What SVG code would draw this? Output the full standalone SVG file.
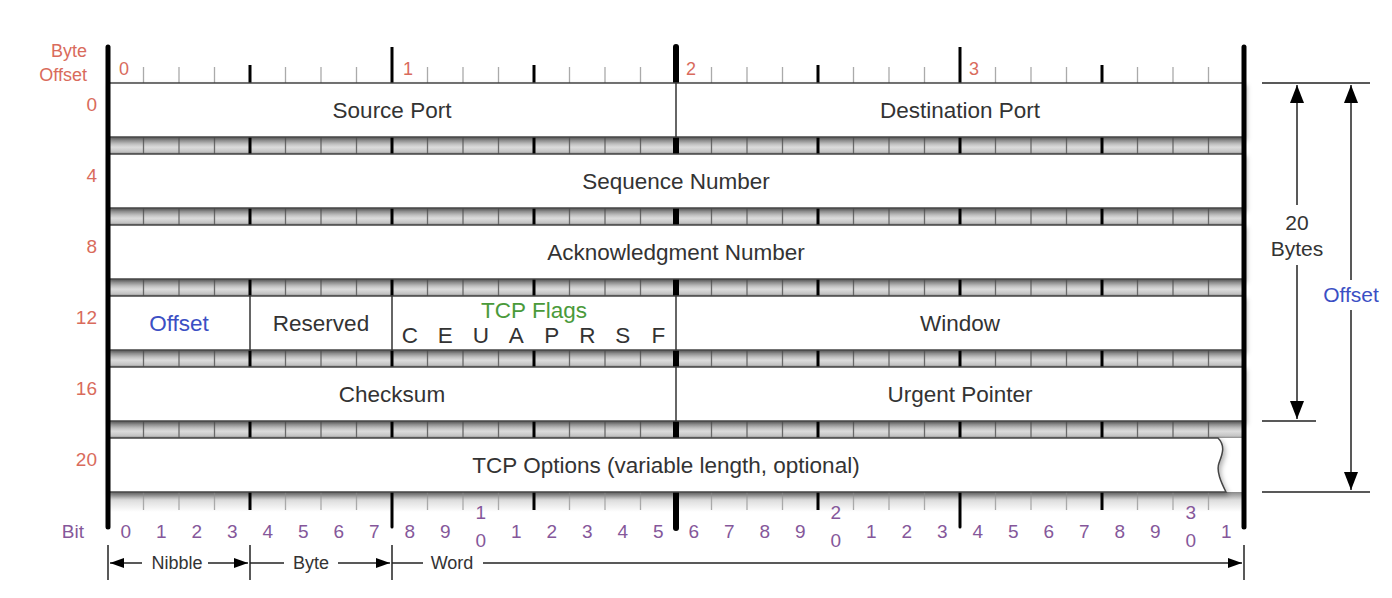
<svg xmlns="http://www.w3.org/2000/svg" xmlns:xlink="http://www.w3.org/1999/xlink" width="1392" height="598" viewBox="0 0 1392 598">
<style>
text{font-family:"Liberation Sans",Arial,sans-serif}
.fld{font-size:22.5px;fill:#333;text-anchor:middle}
.off{font-size:18px;fill:#d96b5c;text-anchor:end}
.byn{font-size:18px;fill:#d96b5c}
.bit{font-size:19px;fill:#85579a;text-anchor:middle}
.lbl{font-size:18px;fill:#333;text-anchor:middle}
.row{fill:#fff;stroke:#444;stroke-width:1.5;filter:url(#sh)}
.div{stroke:#333;stroke-width:1.5}
.lt{stroke:#6a6a6a;stroke-width:1.3}
.tb{stroke:#aaa;stroke-width:1.3}
.nb{stroke:#000;stroke-width:3}
.hw{stroke:#000;stroke-width:6}
.bd{stroke:#000;stroke-width:5;stroke-linecap:round}
.ln{stroke:#222;stroke-width:1.5;fill:none}
</style>
<defs>
<linearGradient id="bg" x1="0" y1="0" x2="0" y2="1">
<stop offset="0" stop-color="#777"/>
<stop offset="0.2" stop-color="#a8a8a8"/>
<stop offset="0.6" stop-color="#dcdcdc"/>
<stop offset="0.88" stop-color="#c4c4c4"/>
<stop offset="1" stop-color="#888"/>
</linearGradient>
<linearGradient id="bg2" x1="0" y1="0" x2="0" y2="1">
<stop offset="0" stop-color="#888"/>
<stop offset="0.4" stop-color="#ddd"/>
<stop offset="1" stop-color="#fff"/>
</linearGradient>
<filter id="sh" x="-5%" y="-20%" width="110%" height="160%">
<feDropShadow dx="2" dy="3" stdDeviation="2.5" flood-color="#000" flood-opacity="0.3"/>
</filter>
<marker id="ah" markerUnits="userSpaceOnUse" viewBox="0 0 18 14" refX="18" refY="7" markerWidth="18" markerHeight="14" orient="auto">
<path d="M0 0 L18 7 L0 14 z" fill="#000"/>
</marker>
<marker id="sa" markerUnits="userSpaceOnUse" viewBox="0 0 14 10" refX="14" refY="5" markerWidth="14" markerHeight="10" orient="auto">
<path d="M0 0 L14 5 L0 10 z" fill="#000"/>
</marker>
<g id="bar">
<rect x="108" y="0" width="1136" height="17" fill="url(#bg)"/>
<g class="lt">
<line x1="143.5" y1="0" x2="143.5" y2="17"/><line x1="179" y1="0" x2="179" y2="17"/><line x1="214.5" y1="0" x2="214.5" y2="17"/>
<line x1="285.5" y1="0" x2="285.5" y2="17"/><line x1="321" y1="0" x2="321" y2="17"/><line x1="356.5" y1="0" x2="356.5" y2="17"/>
<line x1="427.5" y1="0" x2="427.5" y2="17"/><line x1="463" y1="0" x2="463" y2="17"/><line x1="498.5" y1="0" x2="498.5" y2="17"/>
<line x1="569.5" y1="0" x2="569.5" y2="17"/><line x1="605" y1="0" x2="605" y2="17"/><line x1="640.5" y1="0" x2="640.5" y2="17"/>
<line x1="711.5" y1="0" x2="711.5" y2="17"/><line x1="747" y1="0" x2="747" y2="17"/><line x1="782.5" y1="0" x2="782.5" y2="17"/>
<line x1="853.5" y1="0" x2="853.5" y2="17"/><line x1="889" y1="0" x2="889" y2="17"/><line x1="924.5" y1="0" x2="924.5" y2="17"/>
<line x1="995.5" y1="0" x2="995.5" y2="17"/><line x1="1031" y1="0" x2="1031" y2="17"/><line x1="1066.5" y1="0" x2="1066.5" y2="17"/>
<line x1="1137.5" y1="0" x2="1137.5" y2="17"/><line x1="1173" y1="0" x2="1173" y2="17"/><line x1="1208.5" y1="0" x2="1208.5" y2="17"/>
</g>
<g class="nb">
<line x1="250" y1="0" x2="250" y2="17"/><line x1="392" y1="0" x2="392" y2="17"/><line x1="534" y1="0" x2="534" y2="17"/>
<line x1="818" y1="0" x2="818" y2="17"/><line x1="960" y1="0" x2="960" y2="17"/><line x1="1102" y1="0" x2="1102" y2="17"/>
</g>
<line class="hw" x1="676" y1="0" x2="676" y2="17"/>
</g>
</defs>

<rect width="1392" height="598" fill="#fff"/>

<!-- header ruler -->
<g id="header">
<text class="off" x="87" y="57">Byte</text>
<text class="off" x="87" y="81">Offset</text>
<text class="byn" x="119" y="75">0</text>
<text class="byn" x="403" y="75">1</text>
<text class="byn" x="686" y="75">2</text>
<text class="byn" x="969" y="75">3</text>
<g class="tb">
<line x1="143.5" y1="67" x2="143.5" y2="83"/><line x1="179" y1="67" x2="179" y2="83"/><line x1="214.5" y1="67" x2="214.5" y2="83"/>
<line x1="285.5" y1="67" x2="285.5" y2="83"/><line x1="321" y1="67" x2="321" y2="83"/><line x1="356.5" y1="67" x2="356.5" y2="83"/>
<line x1="427.5" y1="67" x2="427.5" y2="83"/><line x1="463" y1="67" x2="463" y2="83"/><line x1="498.5" y1="67" x2="498.5" y2="83"/>
<line x1="569.5" y1="67" x2="569.5" y2="83"/><line x1="605" y1="67" x2="605" y2="83"/><line x1="640.5" y1="67" x2="640.5" y2="83"/>
<line x1="711.5" y1="67" x2="711.5" y2="83"/><line x1="747" y1="67" x2="747" y2="83"/><line x1="782.5" y1="67" x2="782.5" y2="83"/>
<line x1="853.5" y1="67" x2="853.5" y2="83"/><line x1="889" y1="67" x2="889" y2="83"/><line x1="924.5" y1="67" x2="924.5" y2="83"/>
<line x1="995.5" y1="67" x2="995.5" y2="83"/><line x1="1031" y1="67" x2="1031" y2="83"/><line x1="1066.5" y1="67" x2="1066.5" y2="83"/>
<line x1="1137.5" y1="67" x2="1137.5" y2="83"/><line x1="1173" y1="67" x2="1173" y2="83"/><line x1="1208.5" y1="67" x2="1208.5" y2="83"/>
</g>
<g class="nb">
<line x1="250" y1="65" x2="250" y2="83"/><line x1="534" y1="65" x2="534" y2="83"/><line x1="818" y1="65" x2="818" y2="83"/><line x1="1102" y1="65" x2="1102" y2="83"/>
<line x1="392" y1="47" x2="392" y2="83"/><line x1="960" y1="47" x2="960" y2="83"/>
</g>
<line class="hw" x1="676" y1="47" x2="676" y2="83" stroke-linecap="round"/>
</g>

<!-- separator bars -->
<g id="bars">
<use xlink:href="#bar" href="#bar" y="137"/>
<use xlink:href="#bar" href="#bar" y="208"/>
<use xlink:href="#bar" href="#bar" y="279"/>
<use xlink:href="#bar" href="#bar" y="350"/>
<use xlink:href="#bar" href="#bar" y="421"/>
</g>

<!-- bottom ruler -->
<g id="bottom-ruler">
<rect x="108" y="492" width="1136" height="20" fill="url(#bg2)"/>
<g class="tb">
<line x1="143.5" y1="492" x2="143.5" y2="510"/><line x1="179" y1="492" x2="179" y2="510"/><line x1="214.5" y1="492" x2="214.5" y2="510"/>
<line x1="285.5" y1="492" x2="285.5" y2="510"/><line x1="321" y1="492" x2="321" y2="510"/><line x1="356.5" y1="492" x2="356.5" y2="510"/>
<line x1="427.5" y1="492" x2="427.5" y2="510"/><line x1="463" y1="492" x2="463" y2="510"/><line x1="498.5" y1="492" x2="498.5" y2="510"/>
<line x1="569.5" y1="492" x2="569.5" y2="510"/><line x1="605" y1="492" x2="605" y2="510"/><line x1="640.5" y1="492" x2="640.5" y2="510"/>
<line x1="711.5" y1="492" x2="711.5" y2="510"/><line x1="747" y1="492" x2="747" y2="510"/><line x1="782.5" y1="492" x2="782.5" y2="510"/>
<line x1="853.5" y1="492" x2="853.5" y2="510"/><line x1="889" y1="492" x2="889" y2="510"/><line x1="924.5" y1="492" x2="924.5" y2="510"/>
<line x1="995.5" y1="492" x2="995.5" y2="510"/><line x1="1031" y1="492" x2="1031" y2="510"/><line x1="1066.5" y1="492" x2="1066.5" y2="510"/>
<line x1="1137.5" y1="492" x2="1137.5" y2="510"/><line x1="1173" y1="492" x2="1173" y2="510"/><line x1="1208.5" y1="492" x2="1208.5" y2="510"/>
</g>
<g class="nb">
<line x1="250" y1="492" x2="250" y2="510"/><line x1="534" y1="492" x2="534" y2="510"/><line x1="818" y1="492" x2="818" y2="510"/><line x1="1102" y1="492" x2="1102" y2="510"/>
<line x1="392" y1="492" x2="392" y2="527" stroke-linecap="round"/><line x1="960" y1="492" x2="960" y2="527" stroke-linecap="round"/>
</g>
<line class="hw" x1="676" y1="492" x2="676" y2="528" stroke-linecap="round"/>
</g>

<!-- row offset labels -->
<g id="row-offsets">
<text class="off" x="97" y="111" style="font-size:19px">0</text>
<text class="off" x="97" y="182" style="font-size:19px">4</text>
<text class="off" x="97" y="253" style="font-size:19px">8</text>
<text class="off" x="97" y="324" style="font-size:19px">12</text>
<text class="off" x="97" y="395" style="font-size:19px">16</text>
<text class="off" x="97" y="466" style="font-size:19px">20</text>
</g>

<!-- fields -->
<g id="row0">
<rect class="row" x="108" y="83" width="1136" height="54"/>
<line class="div" x1="676" y1="83" x2="676" y2="137"/>
</g>
<g id="source-port"><text class="fld" x="392" y="118">Source Port</text></g>
<g id="destination-port"><text class="fld" x="960" y="118">Destination Port</text></g>

<g id="sequence-number">
<rect class="row" x="108" y="154" width="1136" height="54"/>
<text class="fld" x="676" y="189">Sequence Number</text>
</g>

<g id="acknowledgment-number">
<rect class="row" x="108" y="225" width="1136" height="54"/>
<text class="fld" x="676" y="260">Acknowledgment Number</text>
</g>

<g id="row12">
<rect class="row" x="108" y="296" width="1136" height="54"/>
<line class="div" x1="250" y1="296" x2="250" y2="350"/>
<line class="div" x1="392" y1="296" x2="392" y2="350"/>
<line class="div" x1="676" y1="296" x2="676" y2="350"/>
</g>
<g id="data-offset"><text class="fld" x="179" y="331" style="fill:#3b4fc4">Offset</text></g>
<g id="reserved"><text class="fld" x="321" y="331">Reserved</text></g>
<g id="tcp-flags">
<text class="fld" x="534" y="318" style="fill:#4a9a3a">TCP Flags</text>
<text class="fld" x="409.75" y="343">C</text>
<text class="fld" x="445.25" y="343">E</text>
<text class="fld" x="480.75" y="343">U</text>
<text class="fld" x="516.25" y="343">A</text>
<text class="fld" x="551.75" y="343">P</text>
<text class="fld" x="587.25" y="343">R</text>
<text class="fld" x="622.75" y="343">S</text>
<text class="fld" x="658.25" y="343">F</text>
</g>
<g id="window"><text class="fld" x="960" y="331">Window</text></g>

<g id="row16">
<rect class="row" x="108" y="367" width="1136" height="54"/>
<line class="div" x1="676" y1="367" x2="676" y2="421"/>
</g>
<g id="checksum"><text class="fld" x="392" y="402">Checksum</text></g>
<g id="urgent-pointer"><text class="fld" x="960" y="402">Urgent Pointer</text></g>

<g id="tcp-options">
<path class="row" d="M108 438 L1218 438 C1226 446 1222 455 1219 463 C1216 471 1221 482 1226 492 L108 492 Z"/>
<text class="fld" x="666" y="473">TCP Options (variable length, optional)</text>
</g>

<!-- main borders -->
<g id="borders">
<line class="bd" x1="108" y1="47" x2="108" y2="527"/>
<line class="bd" x1="1244" y1="47" x2="1244" y2="527"/>
</g>

<!-- bit numbers -->
<g id="bit-numbers">
<text class="bit" x="84" y="538" style="text-anchor:end">Bit</text>
<text class="bit" x="125.75" y="538">0</text>
<text class="bit" x="161.25" y="538">1</text>
<text class="bit" x="196.75" y="538">2</text>
<text class="bit" x="232.25" y="538">3</text>
<text class="bit" x="267.75" y="538">4</text>
<text class="bit" x="303.25" y="538">5</text>
<text class="bit" x="338.75" y="538">6</text>
<text class="bit" x="374.25" y="538">7</text>
<text class="bit" x="409.75" y="538">8</text>
<text class="bit" x="445.25" y="538">9</text>
<text class="bit" x="480.75" y="519">1</text>
<text class="bit" x="480.75" y="547">0</text>
<text class="bit" x="516.25" y="538">1</text>
<text class="bit" x="551.75" y="538">2</text>
<text class="bit" x="587.25" y="538">3</text>
<text class="bit" x="622.75" y="538">4</text>
<text class="bit" x="658.25" y="538">5</text>
<text class="bit" x="693.75" y="538">6</text>
<text class="bit" x="729.25" y="538">7</text>
<text class="bit" x="764.75" y="538">8</text>
<text class="bit" x="800.25" y="538">9</text>
<text class="bit" x="835.75" y="519">2</text>
<text class="bit" x="835.75" y="547">0</text>
<text class="bit" x="871.25" y="538">1</text>
<text class="bit" x="906.75" y="538">2</text>
<text class="bit" x="942.25" y="538">3</text>
<text class="bit" x="977.75" y="538">4</text>
<text class="bit" x="1013.25" y="538">5</text>
<text class="bit" x="1048.75" y="538">6</text>
<text class="bit" x="1084.25" y="538">7</text>
<text class="bit" x="1119.75" y="538">8</text>
<text class="bit" x="1155.25" y="538">9</text>
<text class="bit" x="1190.75" y="519">3</text>
<text class="bit" x="1190.75" y="547">0</text>
<text class="bit" x="1226.25" y="538">1</text>
</g>

<!-- size labels -->
<g id="size-labels">
<text class="lbl" x="177" y="569">Nibble</text>
<text class="lbl" x="311" y="569">Byte</text>
<text class="lbl" x="452" y="569">Word</text>
<text class="fld" x="1297" y="230" style="font-size:21px">20</text>
<text class="fld" x="1297" y="256" style="font-size:21px">Bytes</text>
<text class="fld" x="1351" y="302" style="font-size:21px;fill:#3b4fc4">Offset</text>
</g>

<!-- connectors -->
<g id="connectors">
<line class="ln" x1="1262" y1="83" x2="1370" y2="83"/>
<line class="ln" x1="1262" y1="421" x2="1316" y2="421"/>
<line class="ln" x1="1262" y1="492" x2="1370" y2="492"/>
<line class="ln" x1="1297" y1="205" x2="1297" y2="85" marker-end="url(#ah)"/>
<line class="ln" x1="1297" y1="265" x2="1297" y2="419" marker-end="url(#ah)"/>
<line class="ln" x1="1351" y1="280" x2="1351" y2="85" marker-end="url(#ah)"/>
<line class="ln" x1="1351" y1="310" x2="1351" y2="490" marker-end="url(#ah)"/>
<line class="ln" x1="108" y1="545" x2="108" y2="580"/>
<line class="ln" x1="250" y1="545" x2="250" y2="580"/>
<line class="ln" x1="392" y1="545" x2="392" y2="580"/>
<line class="ln" x1="1244" y1="545" x2="1244" y2="580"/>
<line class="ln" x1="142" y1="563" x2="110" y2="563" marker-end="url(#sa)"/>
<line class="ln" x1="208" y1="563" x2="248" y2="563" marker-end="url(#sa)"/>
<line class="ln" x1="250" y1="563" x2="284" y2="563"/>
<line class="ln" x1="338" y1="563" x2="390" y2="563" marker-end="url(#sa)"/>
<line class="ln" x1="392" y1="563" x2="423" y2="563"/>
<line class="ln" x1="483" y1="563" x2="1242" y2="563" marker-end="url(#sa)"/>
</g>
</svg>
